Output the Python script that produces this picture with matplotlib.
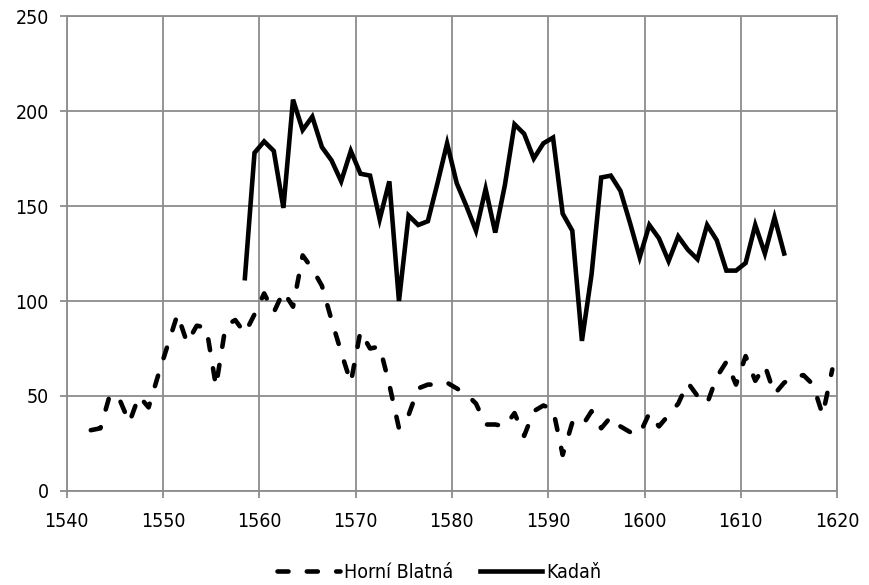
import numpy as np
import matplotlib
matplotlib.use('Agg')
import matplotlib.pyplot as plt

# Horní Blatná, yearly values 1542-1619
hb_years = np.arange(1542, 1620)
hb_values = [32, 33, 51, 48, 36, 50, 44, 61, 77, 93,
             78, 87, 86, 55, 87, 90, 83, 93, 104, 94,
             105, 97, 124, 117, 108, 90, 73, 57, 84, 75,
             76, 56, 33, 40, 54, 56, 56, 57, 54, 51,
             46, 35, 35, 34, 41, 29, 42, 45, 43, 19,
             36, 34, 42, 33, 39, 34, 31, 30, 41, 34,
             40, 46, 57, 50, 46, 60, 68, 56, 71, 58,
             66, 51, 57, 60, 61, 56, 40, 64]

# Kadaň, yearly values 1558-1614
kd_years = np.arange(1558, 1615)
kd_values = [112, 178, 184, 179, 149, 206, 190, 197, 181, 174,
             163, 179, 167, 166, 143, 163, 100, 145, 140, 142,
             162, 183, 162, 150, 137, 159, 136, 161, 193, 188,
             175, 183, 186, 146, 137, 79, 114, 165, 166, 158,
             141, 123, 140, 133, 121, 134, 127, 122, 140, 132,
             116, 116, 120, 140, 125, 144, 125]

x_ticks = np.arange(1540, 1621, 10)
y_ticks = np.arange(0, 251, 50)

grid_color = '#8c8c8c'

plt.rcParams['font.family'] = ['DejaVu Sans']
plt.rcParams['font.stretch'] = 'condensed'

fig = plt.figure(figsize=(8.7, 5.85), dpi=100)
ax = fig.add_axes([0.0767, 0.1607, 0.8855, 0.8119])

# values are plotted at mid-year
ax.plot(hb_years + 0.5, hb_values, color='black', lw=3.3,
        linestyle=(0, (2.4, 4.0)), dash_capstyle='round',
        solid_joinstyle='round', label='Horní Blatná')
ax.plot(kd_years + 0.5, kd_values, color='black', lw=3.3,
        solid_joinstyle='miter', label='Kadaň')

ax.set_xlim(1540, 1620)
ax.set_ylim(0, 250)
ax.set_xticks(x_ticks)
ax.set_yticks(y_ticks)
ax.grid(True, color=grid_color, lw=1.3)
ax.set_axisbelow(True)
for sp in ax.spines.values():
    sp.set_color(grid_color)
    sp.set_linewidth(1.3)
ax.tick_params(axis='both', direction='out', length=5, width=1.3,
               color=grid_color, labelsize=14, labelcolor='black')
ax.tick_params(axis='x', pad=10)
ax.tick_params(axis='y', pad=8)

fig.legend(loc='lower center', bbox_to_anchor=(0.505, -0.025), ncol=2,
           frameon=False, fontsize=14, handlelength=3.2, columnspacing=1.4,
           handletextpad=0.2)

fig.savefig('out.png', dpi=100, facecolor='white')
